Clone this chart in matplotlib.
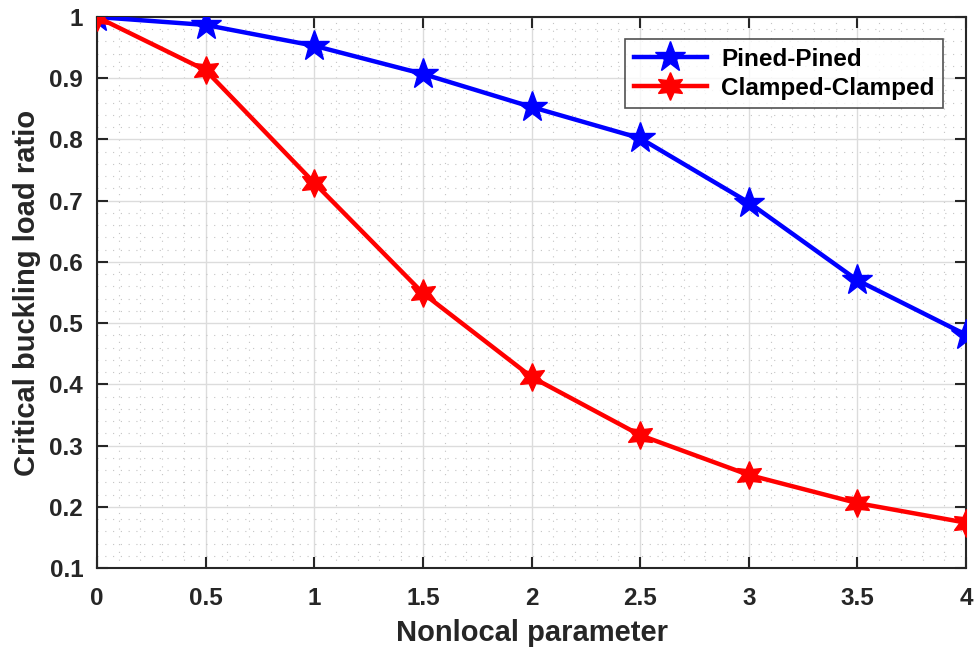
import matplotlib
matplotlib.use("Agg")
import matplotlib.pyplot as plt
from matplotlib.ticker import MultipleLocator

x = [0, 0.5, 1, 1.5, 2, 2.5, 3, 3.5, 4]
pinned = [1.0, 0.987, 0.953, 0.907, 0.853, 0.802, 0.697, 0.570, 0.481]
clamped = [1.0, 0.913, 0.729, 0.549, 0.412, 0.317, 0.252, 0.206, 0.174]
xticklabels = ['0', '0.5', '1', '1.5', '2', '2.5', '3', '3.5', '4']
yticks = [0.1, 0.2, 0.3, 0.4, 0.5, 0.6, 0.7, 0.8, 0.9, 1.0]
yticklabels = ['0.1', '0.2', '0.3', '0.4', '0.5', '0.6', '0.7', '0.8', '0.9', '1']

plt.rcParams['font.family'] = ['Liberation Sans', 'DejaVu Sans']
plt.rcParams['font.weight'] = 'bold'

fig = plt.figure(figsize=(9.76, 6.54), dpi=100)
ax = fig.add_axes([0.0994, 0.1315, 0.8904, 0.8425])

ax.plot(x, pinned, color='#0000ff', lw=3.2, marker='*', ms=23, label='Pined-Pined', zorder=3)
ax.plot(x, clamped, color='#ff0000', lw=3.2, marker=(6, 1, 0), ms=20, label='Clamped-Clamped', zorder=4)

ax.set_xlim(0, 4)
ax.set_ylim(0.1, 1.0)
ax.set_xticks(x)
ax.set_xticklabels(xticklabels)
ax.set_yticks(yticks)
ax.set_yticklabels(yticklabels)
ax.xaxis.set_minor_locator(MultipleLocator(0.1))
ax.yaxis.set_minor_locator(MultipleLocator(0.02))

ax.grid(True, which='major', color='#dcdcdc', lw=1.0, ls='-')
ax.grid(True, which='minor', color='#c4c4c4', lw=0.8, ls=(0, (1, 6)))
ax.set_axisbelow(True)

ax.tick_params(which='major', direction='in', length=8, width=1.5, labelsize=17.5,
               colors='#262626', top=True, right=True)
ax.tick_params(axis='x', which='major', pad=14)
ax.tick_params(axis='y', which='major', pad=10)
ax.tick_params(which='minor', length=0)
for lab in ax.get_xticklabels() + ax.get_yticklabels():
    lab.set_fontweight('bold')
for sp in ax.spines.values():
    sp.set_linewidth(1.5)
    sp.set_color('#262626')

ax.set_xlabel('Nonlocal parameter', fontsize=21, fontweight='bold', color='#262626', labelpad=6)
ax.set_ylabel('Critical buckling load ratio', fontsize=21, fontweight='bold', color='#262626', labelpad=6)

leg = ax.legend(loc='upper right', bbox_to_anchor=(0.9735, 0.96), borderaxespad=0, frameon=True,
                fancybox=False, edgecolor='#262626', handlelength=3.0, borderpad=0.35,
                labelspacing=0.25, handletextpad=0.6, prop={'weight': 'bold', 'size': 17.5})
leg.get_frame().set_linewidth(1.2)

fig.savefig('out.png', dpi=100)
